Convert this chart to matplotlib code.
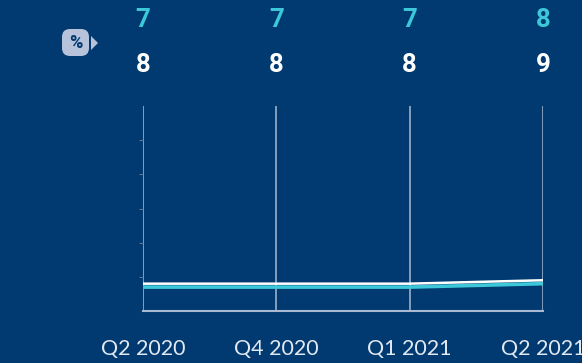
import matplotlib.pyplot as plt
from matplotlib.patches import FancyBboxPatch, Polygon
from matplotlib.transforms import IdentityTransform

quarters = ["Q2 2020", "Q4 2020", "Q1 2021", "Q2 2021"]
series_top = [7, 7, 7, 8]      # cyan
series_bottom = [8, 8, 8, 9]   # white

bg = "#003a70"
cyan = "#3cc8d8"
grid = "#a9b9d1"
W, H = 582, 363

fig = plt.figure(figsize=(5.82, 3.63), dpi=100, facecolor=bg)
ax = fig.add_axes([143 / W, 52 / H, 400 / W, 205 / H])
ax.set_facecolor(bg)

x = list(range(len(quarters)))
ax.plot(x, series_top, color=cyan, lw=2.6, solid_capstyle="butt", zorder=3)
ax.plot(x, series_bottom, color="white", lw=1.8, solid_capstyle="butt", zorder=4)

ax.set_xlim(0, 3)
ax.set_ylim(0, 60)
for xi in x:
    ax.axvline(xi, color=grid, lw=1.1, zorder=1)

for s in ["top", "right", "left"]:
    ax.spines[s].set_visible(False)
ax.spines["bottom"].set_color(grid)
ax.spines["bottom"].set_linewidth(1.5)

ax.set_yticks([10, 20, 30, 40, 50])
ax.set_yticklabels([])
ax.tick_params(axis="y", length=3, width=0.8, color="#5a7597")
ax.set_xticks(x)
ax.set_xticklabels(quarters, fontsize=15.5, color="#e3e9f2", fontfamily="Lato")
ax.tick_params(axis="x", length=0, pad=20)

for xi, a, b in zip(x, series_top, series_bottom):
    ax.annotate(str(a), (xi, 60), xycoords="data", xytext=(0, 86),
                textcoords="offset pixels", ha="center", va="center",
                fontsize=18.5, fontweight="bold", color=cyan, fontfamily="Roboto",
                annotation_clip=False)
    ax.annotate(str(b), (xi, 60), xycoords="data", xytext=(0, 41),
                textcoords="offset pixels", ha="center", va="center",
                fontsize=18.5, fontweight="bold", color="white", fontfamily="Roboto",
                annotation_clip=False)

# percent badge (pixel coordinates, origin bottom-left)
badge = FancyBboxPatch((62, H - 56), 27, 27,
                       boxstyle="round,pad=0,rounding_size=8",
                       transform=IdentityTransform(), facecolor="#b7c3da",
                       edgecolor="none")
fig.patches.append(badge)
tri = Polygon([(91, H - 36), (91, H - 50), (98, H - 43)],
              closed=True, transform=IdentityTransform(), facecolor="#b7c3da",
              edgecolor="none")
fig.patches.append(tri)
fig.text(75.5 / W, (H - 42.5) / H, "%", ha="center", va="center", fontsize=13,
         fontweight="bold", color=bg, fontfamily="Roboto")

fig.savefig("out.png", dpi=100, facecolor=bg)
